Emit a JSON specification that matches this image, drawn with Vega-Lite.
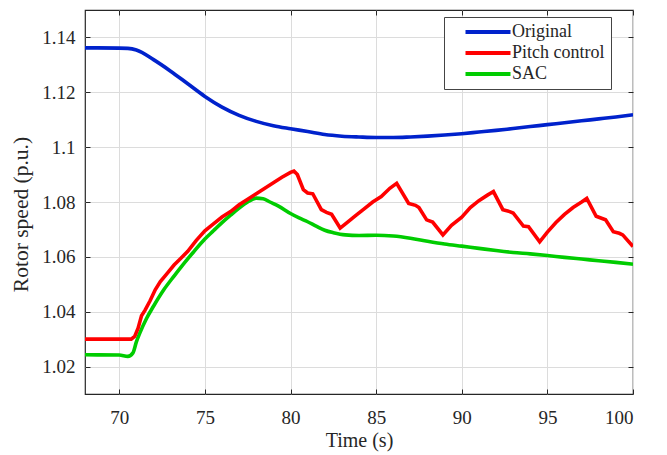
{
  "$schema": "https://vega.github.io/schema/vega-lite/v6.json",
  "width": 548,
  "height": 384,
  "autosize": {"type": "none"},
  "padding": {"left": 85, "top": 10, "right": 34, "bottom": 61},
  "background": "white",
  "config": {
    "font": "Liberation Serif",
    "view": {"stroke": "#262626", "strokeWidth": 1.2},
    "axis": {
      "labelFont": "Liberation Serif",
      "titleFont": "Liberation Serif",
      "labelFontSize": 19,
      "titleFontSize": 20,
      "titleFontWeight": "normal",
      "labelColor": "#262626",
      "titleColor": "#262626",
      "tickColor": "#262626",
      "domain": false,
      "gridColor": "#dcdcdc",
      "gridWidth": 1,
      "tickSize": -5,
      "tickWidth": 1
    },
    "legend": {
      "labelFont": "Liberation Serif",
      "labelFontSize": 18,
      "labelColor": "#262626"
    }
  },
  "datasets": {
    "smooth": [
      {"t": 68, "v": 1.1362, "s": "Original"},
      {"t": 70, "v": 1.1361, "s": "Original"},
      {"t": 70.5, "v": 1.1360, "s": "Original"},
      {"t": 71, "v": 1.1354, "s": "Original"},
      {"t": 72, "v": 1.1319, "s": "Original"},
      {"t": 73, "v": 1.1277, "s": "Original"},
      {"t": 74, "v": 1.1231, "s": "Original"},
      {"t": 75, "v": 1.1185, "s": "Original"},
      {"t": 76, "v": 1.1146, "s": "Original"},
      {"t": 77, "v": 1.1116, "s": "Original"},
      {"t": 78, "v": 1.1094, "s": "Original"},
      {"t": 79, "v": 1.1078, "s": "Original"},
      {"t": 80, "v": 1.1067, "s": "Original"},
      {"t": 81, "v": 1.1057, "s": "Original"},
      {"t": 82, "v": 1.1046, "s": "Original"},
      {"t": 83, "v": 1.1040, "s": "Original"},
      {"t": 84, "v": 1.1037, "s": "Original"},
      {"t": 85, "v": 1.1035, "s": "Original"},
      {"t": 86, "v": 1.1035, "s": "Original"},
      {"t": 87, "v": 1.1037, "s": "Original"},
      {"t": 88, "v": 1.1040, "s": "Original"},
      {"t": 89, "v": 1.1044, "s": "Original"},
      {"t": 90, "v": 1.1049, "s": "Original"},
      {"t": 91, "v": 1.1055, "s": "Original"},
      {"t": 92, "v": 1.1061, "s": "Original"},
      {"t": 93, "v": 1.1068, "s": "Original"},
      {"t": 94, "v": 1.1075, "s": "Original"},
      {"t": 95, "v": 1.1082, "s": "Original"},
      {"t": 96, "v": 1.1089, "s": "Original"},
      {"t": 97, "v": 1.1096, "s": "Original"},
      {"t": 98, "v": 1.1103, "s": "Original"},
      {"t": 99, "v": 1.1110, "s": "Original"},
      {"t": 100, "v": 1.1118, "s": "Original"},
      {"t": 68, "v": 1.0243, "s": "SAC"},
      {"t": 70, "v": 1.0242, "s": "SAC"},
      {"t": 70.5, "v": 1.0237, "s": "SAC"},
      {"t": 70.8, "v": 1.0250, "s": "SAC"},
      {"t": 71.0, "v": 1.0290, "s": "SAC"},
      {"t": 71.2, "v": 1.0322, "s": "SAC"},
      {"t": 71.6, "v": 1.0376, "s": "SAC"},
      {"t": 72.0, "v": 1.0420, "s": "SAC"},
      {"t": 72.6, "v": 1.0480, "s": "SAC"},
      {"t": 73.2, "v": 1.0530, "s": "SAC"},
      {"t": 73.7, "v": 1.0570, "s": "SAC"},
      {"t": 74.3, "v": 1.0615, "s": "SAC"},
      {"t": 75.0, "v": 1.0665, "s": "SAC"},
      {"t": 75.5, "v": 1.0695, "s": "SAC"},
      {"t": 76.0, "v": 1.0725, "s": "SAC"},
      {"t": 76.5, "v": 1.0752, "s": "SAC"},
      {"t": 77.0, "v": 1.0778, "s": "SAC"},
      {"t": 77.5, "v": 1.0800, "s": "SAC"},
      {"t": 78.0, "v": 1.0814, "s": "SAC"},
      {"t": 78.4, "v": 1.0812, "s": "SAC"},
      {"t": 78.8, "v": 1.0800, "s": "SAC"},
      {"t": 79.3, "v": 1.0785, "s": "SAC"},
      {"t": 80.0, "v": 1.0758, "s": "SAC"},
      {"t": 80.5, "v": 1.0742, "s": "SAC"},
      {"t": 81.0, "v": 1.0728, "s": "SAC"},
      {"t": 81.5, "v": 1.0712, "s": "SAC"},
      {"t": 82.0, "v": 1.0697, "s": "SAC"},
      {"t": 82.5, "v": 1.0688, "s": "SAC"},
      {"t": 83.2, "v": 1.0680, "s": "SAC"},
      {"t": 84.0, "v": 1.0678, "s": "SAC"},
      {"t": 85.0, "v": 1.0679, "s": "SAC"},
      {"t": 86.0, "v": 1.0676, "s": "SAC"},
      {"t": 87.0, "v": 1.0668, "s": "SAC"},
      {"t": 88.0, "v": 1.0657, "s": "SAC"},
      {"t": 89.0, "v": 1.0647, "s": "SAC"},
      {"t": 90.0, "v": 1.0639, "s": "SAC"},
      {"t": 91.0, "v": 1.0631, "s": "SAC"},
      {"t": 92.0, "v": 1.0623, "s": "SAC"},
      {"t": 93.0, "v": 1.0616, "s": "SAC"},
      {"t": 94.0, "v": 1.0611, "s": "SAC"},
      {"t": 95.0, "v": 1.0605, "s": "SAC"},
      {"t": 96.0, "v": 1.0598, "s": "SAC"},
      {"t": 97.0, "v": 1.0592, "s": "SAC"},
      {"t": 98.0, "v": 1.0586, "s": "SAC"},
      {"t": 99.0, "v": 1.0580, "s": "SAC"},
      {"t": 100, "v": 1.0573, "s": "SAC"}
    ],
    "pitch": [
      {"t": 68, "v": 1.0300, "s": "Pitch control"},
      {"t": 70.7, "v": 1.0300, "s": "Pitch control"},
      {"t": 70.9, "v": 1.0310, "s": "Pitch control"},
      {"t": 71.1, "v": 1.0340, "s": "Pitch control"},
      {"t": 71.3, "v": 1.0385, "s": "Pitch control"},
      {"t": 71.5, "v": 1.0405, "s": "Pitch control"},
      {"t": 71.8, "v": 1.0440, "s": "Pitch control"},
      {"t": 72.1, "v": 1.0480, "s": "Pitch control"},
      {"t": 72.4, "v": 1.0510, "s": "Pitch control"},
      {"t": 72.8, "v": 1.0540, "s": "Pitch control"},
      {"t": 73.2, "v": 1.0570, "s": "Pitch control"},
      {"t": 73.6, "v": 1.0595, "s": "Pitch control"},
      {"t": 74.0, "v": 1.0620, "s": "Pitch control"},
      {"t": 74.5, "v": 1.0660, "s": "Pitch control"},
      {"t": 75.0, "v": 1.0695, "s": "Pitch control"},
      {"t": 75.5, "v": 1.0720, "s": "Pitch control"},
      {"t": 76.0, "v": 1.0745, "s": "Pitch control"},
      {"t": 76.5, "v": 1.0765, "s": "Pitch control"},
      {"t": 77.0, "v": 1.0790, "s": "Pitch control"},
      {"t": 77.5, "v": 1.0810, "s": "Pitch control"},
      {"t": 78.0, "v": 1.0830, "s": "Pitch control"},
      {"t": 78.5, "v": 1.0850, "s": "Pitch control"},
      {"t": 79.0, "v": 1.0870, "s": "Pitch control"},
      {"t": 79.5, "v": 1.0890, "s": "Pitch control"},
      {"t": 80.0, "v": 1.0908, "s": "Pitch control"},
      {"t": 80.2, "v": 1.0913, "s": "Pitch control"},
      {"t": 80.4, "v": 1.0900, "s": "Pitch control"},
      {"t": 80.75, "v": 1.0845, "s": "Pitch control"},
      {"t": 81.0, "v": 1.0833, "s": "Pitch control"},
      {"t": 81.3, "v": 1.0830, "s": "Pitch control"},
      {"t": 81.8, "v": 1.0772, "s": "Pitch control"},
      {"t": 82.1, "v": 1.0762, "s": "Pitch control"},
      {"t": 82.4, "v": 1.0755, "s": "Pitch control"},
      {"t": 82.9, "v": 1.0705, "s": "Pitch control"},
      {"t": 83.3, "v": 1.0725, "s": "Pitch control"},
      {"t": 83.8, "v": 1.0750, "s": "Pitch control"},
      {"t": 84.3, "v": 1.0775, "s": "Pitch control"},
      {"t": 84.8, "v": 1.0800, "s": "Pitch control"},
      {"t": 85.3, "v": 1.0820, "s": "Pitch control"},
      {"t": 85.8, "v": 1.0850, "s": "Pitch control"},
      {"t": 86.2, "v": 1.0868, "s": "Pitch control"},
      {"t": 86.9, "v": 1.0795, "s": "Pitch control"},
      {"t": 87.3, "v": 1.0788, "s": "Pitch control"},
      {"t": 87.5, "v": 1.0780, "s": "Pitch control"},
      {"t": 87.95, "v": 1.0735, "s": "Pitch control"},
      {"t": 88.3, "v": 1.0727, "s": "Pitch control"},
      {"t": 88.9, "v": 1.0680, "s": "Pitch control"},
      {"t": 89.4, "v": 1.0715, "s": "Pitch control"},
      {"t": 90.0, "v": 1.0745, "s": "Pitch control"},
      {"t": 90.5, "v": 1.0780, "s": "Pitch control"},
      {"t": 91.0, "v": 1.0805, "s": "Pitch control"},
      {"t": 91.5, "v": 1.0825, "s": "Pitch control"},
      {"t": 91.85, "v": 1.0838, "s": "Pitch control"},
      {"t": 92.4, "v": 1.0772, "s": "Pitch control"},
      {"t": 92.8, "v": 1.0765, "s": "Pitch control"},
      {"t": 93.0, "v": 1.0760, "s": "Pitch control"},
      {"t": 93.6, "v": 1.0712, "s": "Pitch control"},
      {"t": 93.9, "v": 1.0710, "s": "Pitch control"},
      {"t": 94.55, "v": 1.0655, "s": "Pitch control"},
      {"t": 95.0, "v": 1.0690, "s": "Pitch control"},
      {"t": 95.5, "v": 1.0725, "s": "Pitch control"},
      {"t": 96.0, "v": 1.0755, "s": "Pitch control"},
      {"t": 96.5, "v": 1.0780, "s": "Pitch control"},
      {"t": 97.0, "v": 1.0800, "s": "Pitch control"},
      {"t": 97.3, "v": 1.0813, "s": "Pitch control"},
      {"t": 97.85, "v": 1.0748, "s": "Pitch control"},
      {"t": 98.2, "v": 1.0740, "s": "Pitch control"},
      {"t": 98.4, "v": 1.0735, "s": "Pitch control"},
      {"t": 98.85, "v": 1.0692, "s": "Pitch control"},
      {"t": 99.2, "v": 1.0686, "s": "Pitch control"},
      {"t": 99.4, "v": 1.0680, "s": "Pitch control"},
      {"t": 100, "v": 1.0638, "s": "Pitch control"}
    ]
  },
  "resolve": {"axis": {"x": "independent", "y": "independent"}},
  "layer": [
    {
      "data": {"name": "smooth"},
      "mark": {"type": "line", "strokeWidth": 3.6, "interpolate": "monotone", "clip": true},
      "encoding": {
        "x": {
          "field": "t", "type": "quantitative",
          "scale": {"domain": [68, 100], "nice": false, "zero": false},
          "axis": {"title": "Time (s)", "values": [70, 75, 80, 85, 90, 95, 100], "grid": true, "labelPadding": 19, "titlePadding": 3}
        },
        "y": {
          "field": "v", "type": "quantitative",
          "scale": {"domain": [1.01, 1.15], "nice": false, "zero": false},
          "axis": {"title": "Rotor speed (p.u.)", "titleFontSize": 21.5, "titleX": -53, "titleY": 204, "titleAngle": 270, "titleAlign": "center", "values": [1.02, 1.04, 1.06, 1.08, 1.1, 1.12, 1.14], "format": "~g", "grid": true, "labelPadding": 15}
        },
        "color": {
          "field": "s", "type": "nominal",
          "scale": {"domain": ["Original", "Pitch control", "SAC"], "range": ["#0022cc", "#ff0000", "#00cc00"]},
          "legend": {
            "title": null, "orient": "none", "legendX": 359, "legendY": 7,
            "symbolType": "M-4.5,0H4.5", "symbolSize": 100, "symbolStrokeWidth": 4,
            "symbolOffset": 29, "labelOffset": 15,
            "strokeColor": "#444444", "fillColor": "white", "padding": 6,
            "rowPadding": 3
          }
        }
      }
    },
    {
      "data": {"name": "pitch"},
      "mark": {"type": "line", "strokeWidth": 3.6, "interpolate": "linear", "clip": true},
      "encoding": {
        "x": {
          "field": "t", "type": "quantitative",
          "axis": {"orient": "top", "title": null, "labels": false, "grid": false, "values": [70, 75, 80, 85, 90, 95, 100]}
        },
        "y": {
          "field": "v", "type": "quantitative",
          "axis": {"orient": "right", "title": null, "labels": false, "grid": false, "values": [1.02, 1.04, 1.06, 1.08, 1.1, 1.12, 1.14]}
        },
        "color": {"field": "s", "type": "nominal"}
      }
    }
  ]
}
